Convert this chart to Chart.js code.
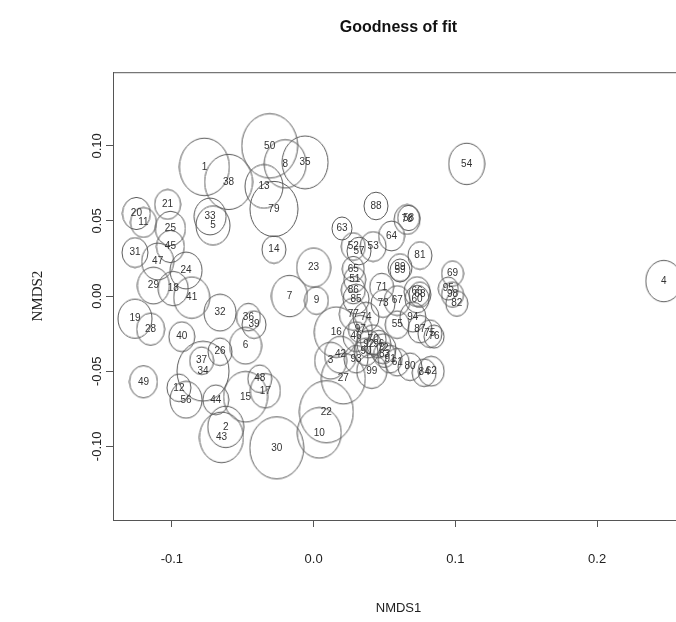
<!DOCTYPE html>
<html>
<head>
<meta charset="utf-8">
<script src="https://cdn.jsdelivr.net/npm/chart.js@4/dist/chart.umd.min.js"></script>
<style>
html, body { margin: 0; padding: 0; overflow: hidden; background: #fff; }
</style>
</head>
<body>
<canvas id="nmds" width="684" height="622"></canvas>
<script>
// site labels and NMDS scores
const siteLabels = ['1','38','50','8','35','13','79','14','33','5',
  '21','20','11','25','45','31','47','24','29','18',
  '41','19','28','40','32','36','39','6','26','37',
  '34','49','12','56','44','48','17','15','2','43',
  '30','7','9','23','22','10','16','3','42','27',
  '54','4','88','58','78','63','64','81','69','52',
  '57','53','65','59','89','51','71','86','85','73',
  '67','66','68','60','95','98','82','94','87','75',
  '76','55','77','74','97','46','70','92','96','90',
  '72','91','83','99','61','80','84','62','93'];
const nmds1 = [-0.077,-0.060,-0.031,-0.020,-0.006,-0.035,-0.028,-0.028,-0.073,-0.071,
  -0.103,-0.125,-0.120,-0.101,-0.101,-0.126,-0.110,-0.090,-0.113,-0.099,
  -0.086,-0.126,-0.115,-0.093,-0.066,-0.046,-0.042,-0.048,-0.066,-0.079,
  -0.078,-0.120,-0.095,-0.090,-0.069,-0.038,-0.034,-0.048,-0.062,-0.065,
  -0.026,-0.017,0.002,0.000,0.009,0.004,0.016,0.012,0.019,0.021,
  0.108,0.247,0.044,0.067,0.066,0.020,0.055,0.075,0.098,0.028,
  0.032,0.042,0.028,0.061,0.061,0.029,0.048,0.028,0.030,0.049,
  0.059,0.073,0.075,0.073,0.095,0.098,0.101,0.070,0.075,0.082,
  0.085,0.059,0.028,0.037,0.033,0.030,0.042,0.039,0.046,0.037,
  0.049,0.054,0.050,0.041,0.059,0.068,0.078,0.083,0.030];
const nmds2 = [0.086,0.076,0.100,0.088,0.089,0.073,0.058,0.031,0.053,0.047,
  0.061,0.055,0.049,0.045,0.033,0.029,0.023,0.017,0.007,0.005,
  -0.001,-0.015,-0.022,-0.027,-0.011,-0.014,-0.019,-0.033,-0.037,-0.043,
  -0.050,-0.057,-0.061,-0.069,-0.069,-0.055,-0.063,-0.067,-0.087,-0.094,
  -0.101,0.000,-0.003,0.019,-0.077,-0.091,-0.024,-0.043,-0.039,-0.055,
  0.088,0.010,0.060,0.052,0.051,0.045,0.040,0.027,0.015,0.033,
  0.030,0.033,0.018,0.017,0.019,0.011,0.006,0.004,-0.002,-0.005,
  -0.003,0.003,0.001,-0.002,0.005,0.001,-0.005,-0.014,-0.022,-0.025,
  -0.027,-0.019,-0.012,-0.014,-0.022,-0.027,-0.029,-0.032,-0.032,-0.037,
  -0.035,-0.042,-0.039,-0.050,-0.044,-0.047,-0.051,-0.050,-0.042];
// goodness of fit, shown as circle radius (px)
const fitRadius = [25,24,28,21,23,19,24,12,16,17,
  13,14,13,15,14,13,16,16,16,15,
  18,17,14,13,16,12,12,16,12,12,
  26,14,12,16,13,12,15,22,18,22,
  27,18,12,17,27,22,22,16,16,22,
  18,18,12,11,13,10,13,12,11,12,
  12,13,11,10,12,11,12,12,13,12,
  13,13,11,12,10,11,11,13,12,12,
  10,12,14,13,12,13,13,12,12,12,
  13,12,11,15,12,12,12,13,12];
const xTicks = [-0.1, 0.0, 0.1, 0.2];
const yTicks = [-0.10, -0.05, 0.00, 0.05, 0.10];

const points = nmds1.map((x, i) => ({ x: x, y: nmds2[i], r: fitRadius[i] }));

// the saved plot was stretched a little vertically, so circles come out as ellipses
const stretch = 1.15;
const ringCache = {};
function ring(r) {
  if (ringCache[r]) return ringCache[r];
  const ry = r * stretch;
  const c = document.createElement('canvas');
  c.width = Math.ceil(2 * r + 2);
  c.height = Math.ceil(2 * ry + 2);
  const g = c.getContext('2d');
  g.strokeStyle = '#5a5a5a';
  g.lineWidth = 1;
  g.beginPath();
  g.ellipse(c.width / 2, c.height / 2, r, ry, 0, 0, Math.PI * 2);
  g.stroke();
  ringCache[r] = c;
  return c;
}

const boxPlugin = {
  id: 'box',
  beforeDatasetsDraw(chart) {
    const a = chart.chartArea;
    const ctx = chart.ctx;
    ctx.save();
    ctx.strokeStyle = '#555';
    ctx.lineWidth = 1;
    ctx.strokeRect(a.left + 0.5, a.top + 0.5, a.right - a.left, a.bottom - a.top);
    ctx.restore();
  }
};

const siteTextPlugin = {
  id: 'siteText',
  afterDatasetsDraw(chart) {
    const ctx = chart.ctx;
    const meta = chart.getDatasetMeta(0);
    ctx.save();
    ctx.font = '10px "Liberation Sans", Arial, sans-serif';
    ctx.fillStyle = '#333';
    ctx.textAlign = 'center';
    ctx.textBaseline = 'middle';
    meta.data.forEach((el, i) => {
      ctx.fillText(siteLabels[i], el.x, el.y);
    });
    ctx.restore();
  }
};

new Chart(document.getElementById('nmds'), {
  type: 'bubble',
  data: {
    datasets: [{
      data: points,
      pointStyle: ctx => ring(ctx.raw.r),
      backgroundColor: 'rgba(0,0,0,0)',
      borderColor: '#5a5a5a',
      borderWidth: 1,
      hoverRadius: 0,
      clip: false
    }]
  },
  options: {
    responsive: false,
    animation: false,
    events: [],
    layout: { padding: 0, autoPadding: false },
    plugins: {
      legend: { display: false },
      tooltip: { enabled: false },
      title: {
        display: true,
        text: 'Goodness of fit',
        fullSize: false,
        color: '#111',
        font: { family: '"Liberation Sans", Arial, sans-serif', size: 16, weight: 'bold' },
        padding: { top: 18, bottom: 35 }
      }
    },
    scales: {
      x: {
        type: 'linear',
        min: -0.1415,
        max: 0.2613,
        afterBuildTicks: s => { s.ticks = xTicks.map(v => ({ value: v })); },
        afterFit: s => { s.height = 102; },
        ticks: {
          color: '#222',
          padding: 25,
          font: { family: '"Liberation Sans", Arial, sans-serif', size: 13 },
          callback: v => v.toFixed(1)
        },
        grid: { drawOnChartArea: false, drawTicks: true, tickLength: 7, color: '#555' },
        border: { display: true, color: '#555' },
        title: {
          display: true,
          text: 'NMDS1',
          color: '#222',
          font: { family: '"Liberation Sans", Arial, sans-serif', size: 13 },
          padding: { top: 0, bottom: 6 }
        }
      },
      y: {
        type: 'linear',
        min: -0.149,
        max: 0.149,
        afterBuildTicks: s => { s.ticks = yTicks.map(v => ({ value: v })); },
        afterFit: s => { s.width = 113; },
        ticks: {
          color: '#222',
          minRotation: 90,
          maxRotation: 90,
          crossAlign: 'center',
          padding: -6,
          font: { family: '"Liberation Sans", Arial, sans-serif', size: 13 },
          callback: v => v.toFixed(2)
        },
        grid: { drawOnChartArea: false, drawTicks: true, tickLength: 7, color: '#555' },
        border: { display: true, color: '#555' },
        title: {
          display: true,
          text: 'NMDS2',
          color: '#222',
          font: { family: '"Liberation Serif", "Times New Roman", serif', size: 15 },
          padding: { top: 29, bottom: 0 }
        }
      }
    }
  },
  plugins: [boxPlugin, siteTextPlugin]
});
</script>
</body>
</html>
